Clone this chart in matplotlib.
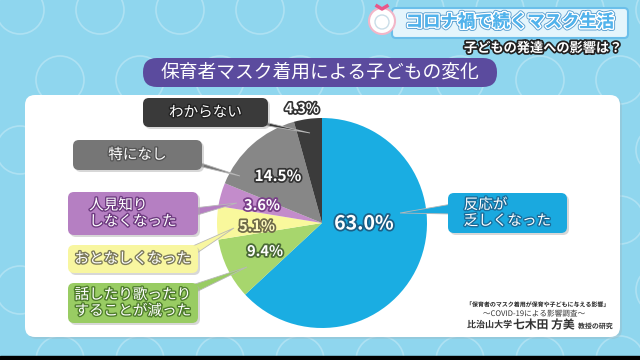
import matplotlib
matplotlib.use("Agg")
import matplotlib.pyplot as plt
import matplotlib.patheffects as pe
from matplotlib.patches import FancyBboxPatch, Polygon, Circle, Rectangle
import numpy as np

plt.rcParams["font.family"] = ["Noto Sans CJK JP", "DejaVu Sans"]

# ── data (share of answers, %) ──
categories = ["反応が\n乏しくなった", "話したり歌ったり\nすることが減った", "おとなしくなった",
              "人見知り\nしなくなった", "特になし", "わからない"]
shares = [63.0, 9.4, 5.1, 3.6, 14.5, 4.3]

# ── style ──
slice_colors = ["#1aade2", "#a7d66d", "#f9f89c", "#c38ccb", "#878787", "#3b3b3b"]
box_colors = ["#1aa9df", "#99cc63", "#f8f6a0", "#b57fc2", "#767676", "#3a3a3a"]
text_stroke = ["#1b6d9a", "#4f7d2c", "#7d7b5a", "#6e3b80", "#555555", "#222222"]
pct_stroke = ["#1b5f86", "#4a6a36", "#6f6a4a", "#7a3f8a", "#333333", "#333333"]
pct_size = [14, 10.5, 10.5, 10.5, 11, 10]

H = 360
def Y(y):
    return H - y

# callout boxes in screen pixels: x0, y0, x1, y1 ; pointer base points and tip
boxes = [(448, 193, 567, 233), (68, 283, 198, 323), (68, 245, 198, 273),
         (68, 192, 198, 235), (73, 140, 202, 170), (143, 98, 268, 127)]
bases = [((452, 204), (452, 214)), ((186, 287), (194, 293)), ((186, 249), (194, 255)),
         ((194, 208), (194, 216)), ((192, 160), (198, 166)), ((256, 120), (262, 125))]
tips = [(400, 213), (247, 267), (234, 228), (237, 203), (240, 176), (310, 133)]
pct_pos = [(364, 224), (265, 251), (257, 226), (262, 205), (278, 176), (302, 109)]

fig = plt.figure(figsize=(6.4, 3.6), dpi=100)
ax = fig.add_axes([0, 0, 1, 1])

# background
ax.add_patch(Rectangle((0, 0), 640, 360, color="#8fd6ee", zorder=0))
for cx in np.arange(20, 680, 80):
    for cy in np.arange(10, 400, 70):
        off = 40 if (int(cy) // 70) % 2 else 0
        ax.add_patch(Circle((cx + off, Y(cy)), 24, fill=False, ec="white",
                            lw=1.2, alpha=0.28, zorder=0.5))
ax.add_patch(Rectangle((0, 0), 640, 4, color="black", zorder=6))

# white panel
ax.add_patch(FancyBboxPatch((27, Y(339)), 595, 242, boxstyle="round,pad=0,rounding_size=10",
                            fc="#9ab8c4", ec="none", alpha=0.4, zorder=1))
ax.add_patch(FancyBboxPatch((25, Y(337)), 595, 242, boxstyle="round,pad=0,rounding_size=10",
                            fc="white", ec="none", zorder=1.1))

# title pill
ax.add_patch(FancyBboxPatch((143, Y(87)), 354, 29, boxstyle="round,pad=0,rounding_size=14",
                            fc="#5b4b9e", ec="none", zorder=2))
ax.text(320, Y(72.5), "保育者マスク着用による子どもの変化", color="white", fontsize=13.5,
        ha="center", va="center", zorder=3)

# top-right header
ax.add_patch(FancyBboxPatch((392, Y(38)), 236, 30, boxstyle="round,pad=0,rounding_size=4",
                            fc="#e4f5fc", ec="#6bbfea", lw=1.5, zorder=2))
ax.text(510, Y(22), "コロナ禍で続くマスク生活", color="#52b3ec", fontsize=12.5,
        fontweight="bold", ha="center", va="center", zorder=3,
        path_effects=[pe.withStroke(linewidth=3.5, foreground="#5a9fd0"),
                      pe.withStroke(linewidth=2.2, foreground="white"), pe.Normal()])
ax.text(623, Y(48), "子どもの発達への影響は？", color="white", fontsize=9.5,
        fontweight="bold", ha="right", va="center", zorder=3,
        path_effects=[pe.withStroke(linewidth=2.5, foreground="#222222")])
# logo
ax.add_patch(Circle((382, Y(21)), 13, fc="white", ec="#f2b6c8", lw=1.5, zorder=2))
ax.add_patch(Circle((382, Y(22)), 7, fill=False, ec="#c9dde8", lw=1, zorder=2.1))
ax.plot([377, 382, 387], [Y(6), Y(9), Y(6)], color="#e8578a", lw=2.5, zorder=2.2)

# pie
ax.pie(shares, colors=slice_colors, startangle=90, counterclock=False,
       center=(322, Y(223)), radius=105, wedgeprops=dict(linewidth=0, zorder=3),
       frame=True)

# callouts
for i, lab in enumerate(categories):
    x0, y0, x1, y1 = boxes[i]
    (bx1, by1), (bx2, by2) = bases[i]
    tx, ty = tips[i]
    ax.add_patch(Polygon([(bx1, Y(by1)), (tx, Y(ty)), (bx2, Y(by2))], closed=True,
                         fc=box_colors[i], ec="#b8b8b8", lw=0.6, zorder=4))
    ax.add_patch(FancyBboxPatch((x0 + 2, Y(y1) - 2), x1 - x0, y1 - y0,
                                boxstyle="round,pad=0,rounding_size=6",
                                fc="#b0b0b0", ec="none", alpha=0.5, zorder=4.1))
    ax.add_patch(FancyBboxPatch((x0, Y(y1)), x1 - x0, y1 - y0,
                                boxstyle="round,pad=0,rounding_size=6",
                                fc=box_colors[i], ec="none", zorder=4.2))
    ax.text((x0 + x1) / 2, Y((y0 + y1) / 2), lab, color="white", fontsize=10.5,
            ha="center", va="center", multialignment="left", linespacing=1.2, zorder=5,
            path_effects=[pe.withStroke(linewidth=2, foreground=text_stroke[i])])

# percentages
for i, v in enumerate(shares):
    px, py = pct_pos[i]
    fc = "#fffbc0" if i == 2 else "white"
    ax.text(px, Y(py), f"{v:.1f}%", color=fc, fontsize=pct_size[i], fontweight="bold",
            ha="center", va="center", zorder=5,
            path_effects=[pe.withStroke(linewidth=2.5, foreground=pct_stroke[i])])

# source note
src_fx = [pe.withStroke(linewidth=1.5, foreground="white")]
ax.text(538, Y(304), "「保育者のマスク着用が保育や子どもに与える影響」", fontsize=4.3,
        color="#222222", ha="center", va="center", fontweight="bold", zorder=5,
        path_effects=src_fx)
ax.text(534, Y(314), "～COVID-19による影響調査～", fontsize=5.5,
        color="#333333", ha="center", va="center", zorder=5, path_effects=src_fx)
ax.text(467, Y(325), "比治山大学", fontsize=6.5, color="#333333", ha="left", va="center",
        fontweight="bold", zorder=5, path_effects=src_fx)
ax.text(513, Y(325), "七木田 方美", fontsize=8.5, color="#333333", ha="left", va="center",
        fontweight="bold", zorder=5, path_effects=src_fx)
ax.text(578, Y(326), "教授の研究", fontsize=5, color="#333333", ha="left", va="center",
        fontweight="bold", zorder=5, path_effects=src_fx)

ax.set_xlim(0, 640)
ax.set_ylim(0, 360)
ax.set_aspect("auto")
ax.axis("off")

fig.savefig("out.png", dpi=100)
